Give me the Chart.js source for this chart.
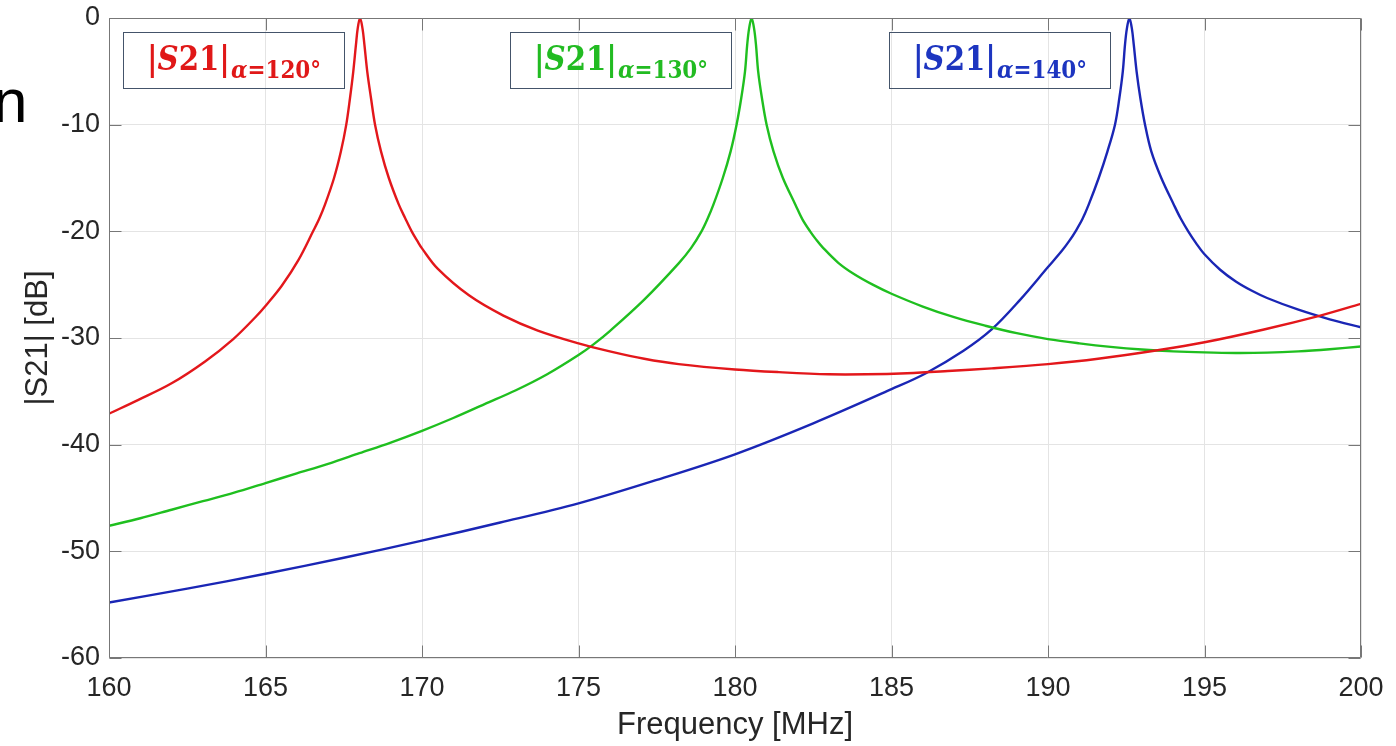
<!DOCTYPE html>
<html>
<head>
<meta charset="utf-8">
<script src="https://cdn.jsdelivr.net/npm/chart.js@4/dist/chart.umd.min.js"></script>
<style>
  html, body { margin: 0; padding: 0; background: #ffffff; }
  #wrap { position: relative; width: 1396px; height: 746px; overflow: hidden; }
  #plot { position: absolute; left: 0; top: 0; }
  .tag {
    position: absolute; top: 32px; width: 222px; height: 57px; box-sizing: border-box;
    border: 1.5px solid #44546a; background: transparent;
    font-family: "DejaVu Serif", "Liberation Serif", serif; font-weight: bold;
    white-space: nowrap;
  }
  .tag .txt {
    position: absolute; left: 50%; top: 25px;
    transform: translateX(-50%) scaleX(0.86); transform-origin: 50% 0;
    font-size: 34px; line-height: 0; display: block;
  }
  .tag i { font-style: italic; }
  .tag .sub { font-size: 25px; position: relative; top: 8px; margin-left: 1px; }
</style>
</head>
<body>
<div id="wrap">
  <canvas id="plot" width="1396" height="746"></canvas>
</div>
<script>
// Frequency sweep [MHz] and transmission magnitude [dB] for each coupling angle
const redFreq = [160.0, 160.94, 162.0, 163.07, 163.97, 164.66, 165.04, 165.52, 166.05, 166.52, 166.72, 166.9, 167.19,
                 167.41, 167.58, 167.7, 167.805, 167.89, 167.945, 168.02, 168.1, 168.16, 168.25, 168.37, 168.5, 168.69,
                 168.94, 169.26, 169.46, 169.67, 169.85, 170.0, 170.5, 171.5, 172.6, 173.7, 175.0, 176.0, 177.1, 178.2,
                 180.0, 181.4, 183.0, 184.2, 185.5, 186.8, 188.2, 190.0, 191.6, 193.5, 195.0, 196.9, 198.7, 200.0];
const redDb   = [-37.1, -35.8, -34.25, -32.2, -30.1, -28.1, -26.85, -25.1, -22.7, -20.0, -18.8, -17.5, -15.0,
                 -12.5, -10.0, -7.5, -5.0, -2.5, -1.0, 0.0, -1.0, -2.5, -5.0, -7.5, -10.0, -12.5,
                 -15.0, -17.5, -18.75, -20.0, -20.9, -21.6, -23.5, -26.0, -27.9, -29.3, -30.5, -31.25, -31.95, -32.45,
                 -32.95, -33.2, -33.4, -33.4, -33.3, -33.1, -32.85, -32.45, -31.95, -31.15, -30.4, -29.2, -27.9, -26.8];

const greenFreq = [160.0, 161.0, 162.0, 163.0, 164.0, 165.0, 166.0, 167.0, 168.0, 169.0, 170.0, 171.0, 172.0, 173.0,
                   174.0, 175.0, 175.5, 176.0, 177.1, 178.2, 178.6, 178.93, 179.12, 179.31, 179.61, 179.86, 180.05,
                   180.2, 180.32, 180.39, 180.45, 180.53, 180.61, 180.67, 180.74, 180.86, 181.01, 181.23, 181.53,
                   181.93, 182.15, 182.4, 182.6, 182.8, 183.3, 183.8, 184.4, 185.0, 186.0, 187.0, 188.0, 189.0, 190.0,
                   191.0, 192.0, 193.0, 194.0, 195.0, 196.0, 197.0, 198.0, 199.0, 200.0];
const greenDb   = [-47.6, -46.9, -46.1, -45.3, -44.5, -43.6, -42.7, -41.8, -40.8, -39.8, -38.7, -37.5, -36.2, -34.9,
                   -33.4, -31.6, -30.55, -29.35, -26.4, -23.0, -21.55, -20.0, -18.85, -17.5, -15.0, -12.5, -10.0,
                   -7.5, -5.0, -2.5, -1.0, 0.0, -1.0, -2.5, -5.0, -7.5, -10.0, -12.5, -15.0,
                   -17.5, -18.85, -20.0, -20.8, -21.5, -22.95, -24.0, -25.0, -25.85, -27.05, -28.05, -28.85, -29.55, -30.1,
                   -30.5, -30.83, -31.08, -31.25, -31.35, -31.4, -31.37, -31.25, -31.05, -30.8];

const blueFreq = [160.0, 162.5, 165.0, 167.5, 170.0, 172.5, 175.0, 177.5, 180.0, 182.5, 185.0, 186.1, 187.3, 188.2,
                  189.1, 190.0, 190.45, 190.68, 190.9, 191.1, 191.3, 191.62, 191.9, 192.14, 192.28, 192.39, 192.46,
                  192.52, 192.6, 192.68, 192.74, 192.83, 192.95, 193.1, 193.3, 193.62, 194.02, 194.24, 194.48, 194.74,
                  195.0, 195.5, 196.0, 196.5, 197.0, 198.0, 199.0, 200.0];
const blueDb   = [-54.8, -53.5, -52.1, -50.6, -49.0, -47.3, -45.5, -43.3, -40.9, -38.0, -34.8, -33.3, -31.2, -29.2,
                  -26.45, -23.35, -21.8, -20.9, -19.9, -18.85, -17.5, -15.0, -12.5, -10.0, -7.5, -5.0, -2.5,
                  -1.0, 0.0, -1.0, -2.5, -5.0, -7.5, -10.0, -12.5, -15.0, -17.5, -18.8, -20.0, -21.15,
                  -22.15, -23.6, -24.7, -25.55, -26.25, -27.35, -28.25, -29.0];

// Axis ticks
const xTicks = [160, 165, 170, 175, 180, 185, 190, 195, 200];
const yTicks = [-60, -50, -40, -30, -20, -10, 0];

// Curve labels (angle α in degrees)
const angles = ['120', '130', '140'];
const lineColors = ['#e3171b', '#1fbf1f', '#1a26b5'];
const textColors = ['#e01818', '#22bb22', '#1d35c0'];
const tagLeft = [123, 510, 889];

const toPoints = (xs, ys) => xs.map((f, i) => ({ x: f, y: ys[i] }));

// Boxed curve labels: |S21| with subscript α=…°
const wrap = document.getElementById('wrap');
angles.forEach((a, i) => {
  const d = document.createElement('div');
  d.className = 'tag';
  d.style.left = tagLeft[i] + 'px';
  d.style.color = textColors[i];
  d.innerHTML = '<span class="txt">|<i>S</i>21|<span class="sub"><i>α</i>=' + a + '°</span></span>';
  wrap.appendChild(d);
});

// Box around the axes with inward tick marks on all four sides
const frame = {
  id: 'frame',
  afterDatasetsDraw(chart) {
    const { ctx, chartArea: a, scales } = chart;
    const L = Math.round(a.left) + 0.5, R = Math.round(a.right) - 0.5;
    const T = Math.round(a.top) + 0.5, B = Math.round(a.bottom) - 0.5;
    ctx.save();
    ctx.strokeStyle = '#777777';
    ctx.lineWidth = 1;
    ctx.beginPath();
    ctx.rect(L, T, R - L, B - T);
    const tl = 12;
    xTicks.forEach(v => {
      const px = Math.round(scales.x.getPixelForValue(v)) + 0.5;
      ctx.moveTo(px, B); ctx.lineTo(px, B - tl);
      ctx.moveTo(px, T); ctx.lineTo(px, T + tl);
    });
    yTicks.forEach(v => {
      const py = Math.round(scales.y.getPixelForValue(v)) + 0.5;
      ctx.moveTo(L, py); ctx.lineTo(L + tl, py);
      ctx.moveTo(R, py); ctx.lineTo(R - tl, py);
    });
    ctx.stroke();
    ctx.restore();
  },
  afterDraw(chart) {
    // trailing letter of the slide text at the left edge
    const ctx = chart.ctx;
    ctx.save();
    ctx.fillStyle = '#000000';
    ctx.font = '62px "Liberation Sans", Arial, sans-serif';
    ctx.textBaseline = 'alphabetic';
    ctx.fillText('n', -7, 122);
    ctx.restore();
  }
};

const mkSet = (label, xs, ys, color) => ({
  label, data: toPoints(xs, ys), borderColor: color, backgroundColor: color,
  borderWidth: 2.4, pointRadius: 0, fill: false, tension: 0.35
});

new Chart(document.getElementById('plot'), {
  type: 'line',
  data: {
    datasets: [
      mkSet('|S21| α=120°', redFreq, redDb, lineColors[0]),
      mkSet('|S21| α=130°', greenFreq, greenDb, lineColors[1]),
      mkSet('|S21| α=140°', blueFreq, blueDb, lineColors[2])
    ]
  },
  options: {
    responsive: false,
    animation: false,
    events: [],
    layout: { padding: { left: 0, top: 18, right: 35, bottom: 0 } },
    plugins: { legend: { display: false }, tooltip: { enabled: false } },
    scales: {
      x: {
        type: 'linear', min: 160, max: 200,
        afterBuildTicks: s => { s.ticks = xTicks.map(v => ({ value: v })); },
        afterFit: s => { s.height = 88; s.paddingLeft = 0; s.paddingRight = 0; },
        grid: { color: '#e4e4e4', lineWidth: 1, drawTicks: false },
        border: { display: false },
        ticks: { color: '#262626', padding: 14, maxRotation: 0,
                 font: { family: '"Liberation Sans", Arial, sans-serif', size: 27 } },
        title: { display: true, text: 'Frequency [MHz]', color: '#262626',
                 padding: { top: 0, bottom: 2 },
                 font: { family: '"Liberation Sans", Arial, sans-serif', size: 31 } }
      },
      y: {
        type: 'linear', min: -60, max: 0,
        afterBuildTicks: s => { s.ticks = yTicks.map(v => ({ value: v })); },
        afterFit: s => { s.width = 109; s.paddingTop = 0; s.paddingBottom = 0; },
        grid: { color: '#e4e4e4', lineWidth: 1, drawTicks: false },
        border: { display: false },
        ticks: { color: '#262626', padding: 9,
                 font: { family: '"Liberation Sans", Arial, sans-serif', size: 27 } },
        title: { display: true, text: '|S21| [dB]', color: '#262626',
                 padding: { top: 20, bottom: 0 },
                 font: { family: '"Liberation Sans", Arial, sans-serif', size: 31 } }
      }
    }
  },
  plugins: [frame]
});
</script>
</body>
</html>
